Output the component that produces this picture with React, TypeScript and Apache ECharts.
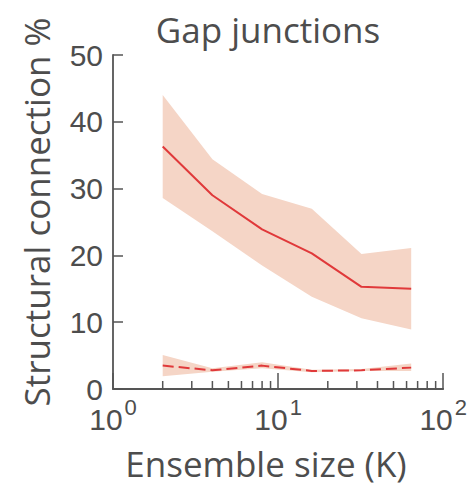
import React, { useEffect, useRef } from "react";
import * as echarts from "echarts";

const ensembleSizes = [2, 4, 8, 16, 32, 64];
const solidMean = [36.3, 29.0, 23.9, 20.3, 15.3, 15.0];
const solidUpper = [44.0, 34.4, 29.2, 27.0, 20.2, 21.1];
const solidLower = [28.6, 23.6, 18.5, 13.8, 10.6, 8.9];
const dashedMean = [3.5, 2.8, 3.5, 2.7, 2.8, 3.2];
const dashedUpper = [5.1, 3.1, 4.0, 2.9, 3.0, 3.8];
const dashedLower = [1.9, 2.6, 3.1, 2.5, 2.7, 2.7];
const xMinorTicks = [2, 3, 4, 5, 6, 7, 8, 9, 20, 30, 40, 50, 60, 70, 80, 90];

const TITLE = "Gap junctions";
const X_NAME = "Ensemble size (K)";
const Y_NAME = "Structural connection %";

const LINE_COLOR = "#e0393a";
const BAND_COLOR = "#f5d5c6";
const AXIS_COLOR = "#555555";
const TEXT_COLOR = "#4d4d4d";
const SANS = "'Open Sans', 'Noto Sans', sans-serif";
const NUM = "'Liberation Sans', Arial, sans-serif";

function bandSeries(upper: number[], lower: number[]) {
  return {
    type: "custom",
    silent: true,
    z: 1,
    data: [[1, 0]],
    renderItem: (_params: any, api: any) => {
      const pts: number[][] = [];
      ensembleSizes.forEach((x, i) => pts.push(api.coord([x, upper[i]])));
      for (let i = ensembleSizes.length - 1; i >= 0; i--) {
        pts.push(api.coord([ensembleSizes[i], lower[i]]));
      }
      return {
        type: "polygon",
        shape: { points: pts },
        style: { fill: BAND_COLOR },
      };
    },
  };
}

export default function App() {
  const ref = useRef<HTMLDivElement>(null);
  useEffect(() => {
    if (!ref.current) return;
    const chart = echarts.init(ref.current, undefined, { renderer: "svg" });
    chart.setOption({
      animation: false,
      grid: { left: 113, right: 23, top: 55, bottom: 97 },
      xAxis: {
        type: "log",
        logBase: 10,
        min: 1,
        max: 100,
        splitLine: { show: false },
        axisLine: { show: true, lineStyle: { color: AXIS_COLOR, width: 1.8 } },
        axisTick: { show: true, inside: true, length: 16, lineStyle: { color: AXIS_COLOR, width: 1.5 } },
        axisLabel: {
          margin: 7,
          color: TEXT_COLOR,
          formatter: (v: number) => {
            const e = Math.round(Math.log10(v));
            return `{b|10}{s|${e}}`;
          },
          rich: {
            b: { fontFamily: NUM, fontSize: 30, color: TEXT_COLOR, padding: [8, 0, 0, 0], verticalAlign: "bottom" },
            s: { fontFamily: NUM, fontSize: 22, color: TEXT_COLOR, padding: [0, 0, 0, 2], verticalAlign: "top" },
          },
        },
      },
      yAxis: {
        type: "value",
        min: 0,
        max: 50,
        interval: 10,
        splitLine: { show: false },
        axisLine: { show: true, lineStyle: { color: AXIS_COLOR, width: 1.8 } },
        axisTick: { show: true, inside: true, length: 10, lineStyle: { color: AXIS_COLOR, width: 1.5 } },
        axisLabel: { margin: 10, color: TEXT_COLOR, fontFamily: NUM, fontSize: 30, lineHeight: 24 },
      },
      graphic: [
        {
          type: "text",
          x: 268,
          y: 29,
          style: { text: TITLE, font: `35px ${SANS}`, fill: TEXT_COLOR, textAlign: "center", textVerticalAlign: "middle" },
        },
        {
          type: "text",
          x: 266,
          y: 463,
          style: { text: X_NAME, font: `35px ${SANS}`, fill: TEXT_COLOR, textAlign: "center", textVerticalAlign: "middle" },
        },
        {
          type: "text",
          x: 36,
          y: 212,
          rotation: Math.PI / 2,
          style: { text: Y_NAME, font: `35px ${SANS}`, fill: TEXT_COLOR, textAlign: "center", textVerticalAlign: "middle" },
        },
      ],
      series: [
        bandSeries(solidUpper, solidLower),
        bandSeries(dashedUpper, dashedLower),
        {
          type: "line",
          z: 3,
          symbol: "none",
          data: ensembleSizes.map((x, i) => [x, solidMean[i]]),
          lineStyle: { color: LINE_COLOR, width: 2 },
        },
        {
          type: "line",
          z: 3,
          symbol: "none",
          data: ensembleSizes.map((x, i) => [x, dashedMean[i]]),
          lineStyle: { color: LINE_COLOR, width: 2, type: [11, 5] },
        },
        {
          type: "custom",
          silent: true,
          z: 4,
          data: xMinorTicks.map((v) => [v, 0]),
          renderItem: (_params: any, api: any) => {
            const p = api.coord([api.value(0), 0]);
            return {
              type: "line",
              shape: { x1: p[0], y1: p[1], x2: p[0], y2: p[1] - 8 },
              style: { stroke: AXIS_COLOR, lineWidth: 1.5 },
            };
          },
        },
      ],
    });
    return () => chart.dispose();
  }, []);
  return <div ref={ref} style={{ position: "absolute", left: 0, top: 0, width: 470, height: 486 }} />;
}
